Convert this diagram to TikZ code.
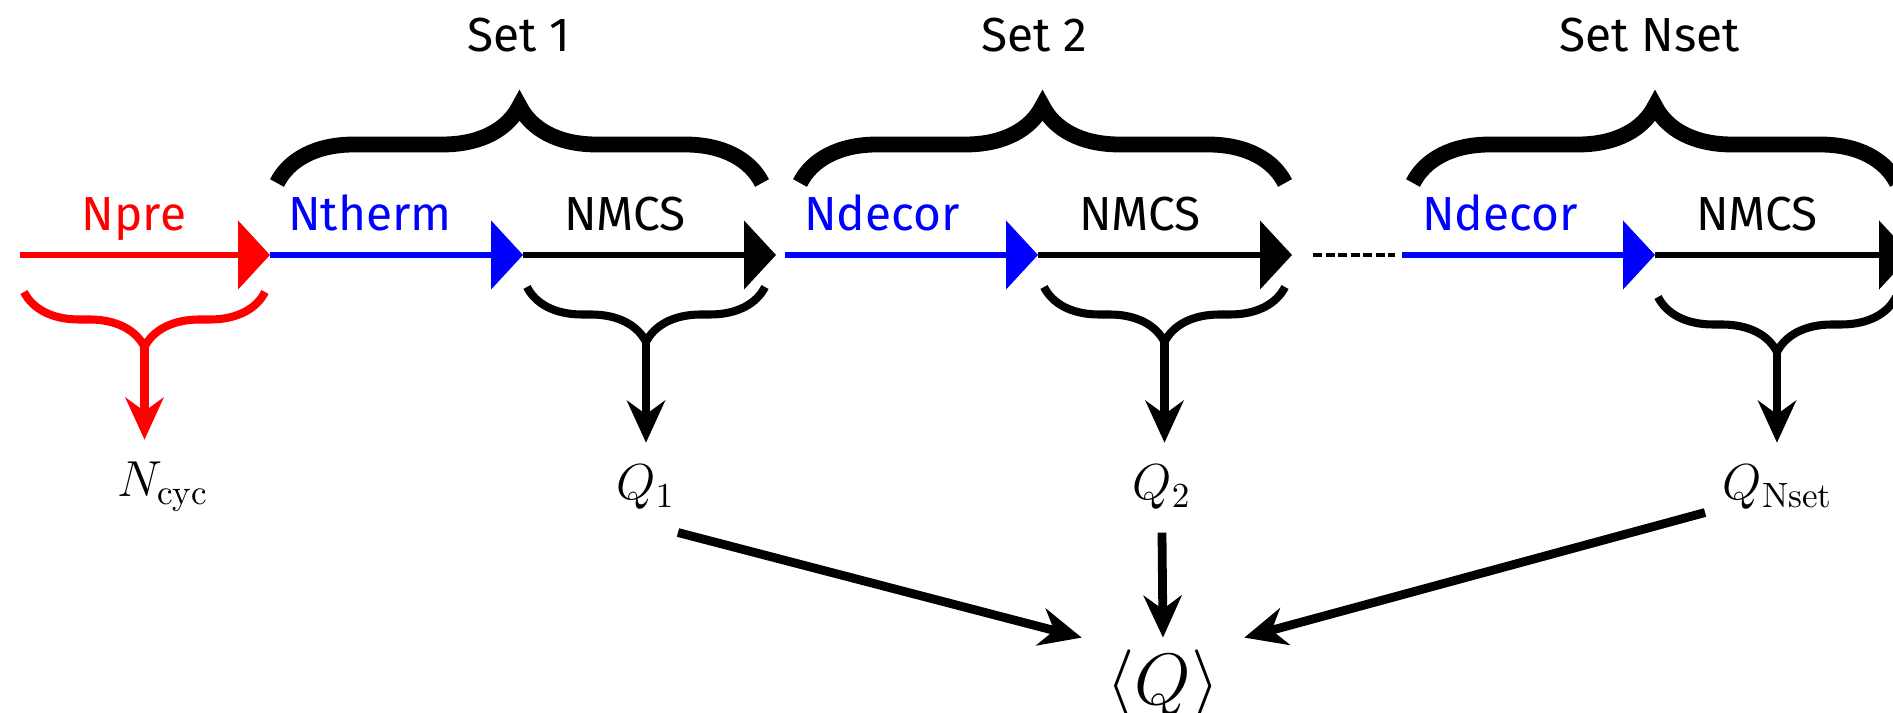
\documentclass[tikz,border=0pt]{standalone}
\usepackage{fontspec}
\setsansfont{Fira Sans}
\usetikzlibrary{arrows.meta}
\usetikzlibrary{positioning}
\usetikzlibrary{decorations.pathreplacing}

\begin{document}
\begin{tikzpicture}[timeline/.style={line width=1.5pt, -{Triangle[length=3.2mm,width=6.8mm]}},
                    set brace/.style={decorate, decoration={brace, amplitude=7.7mm}, line width=4.5pt},
                    mcs brace/.style={decorate, decoration={brace, mirror, amplitude=5.5mm}, line width=2.3pt},
                    out arrow/.style={line width=2.5pt, -{Stealth[length=4.2mm,width=3.8mm]}},
                    steplabel/.style={font=\sffamily\fontsize{13.6}{16}\selectfont, anchor=base, inner sep=0pt},
                    result/.style={font=\Large, anchor=base, inner sep=2.2mm}]

    \useasboundingbox (0,0) rectangle (18.93,7.13);

    % points on the Monte Carlo time line
    \coordinate (t0) at (0.20,4.58);
    \coordinate (t1) at (2.70,4.58);
    \coordinate (t2) at (5.23,4.58);
    \coordinate (t3) at (7.76,4.58);
    \coordinate (t4) at (7.85,4.58);
    \coordinate (t5) at (10.38,4.58);
    \coordinate (t6) at (12.92,4.58);
    \coordinate (d0) at (13.13,4.58);
    \coordinate (d1) at (13.95,4.58);
    \coordinate (t7) at (14.02,4.58);
    \coordinate (t8) at (16.55,4.58);
    \coordinate (t9) at (19.11,4.58);

    \draw[timeline, red]  (t0) -- (t1);
    \draw[timeline, blue] (t1) -- (t2);
    \draw[timeline]       (t2) -- (t3);
    \draw[timeline, blue] (t4) -- (t5);
    \draw[timeline]       (t5) -- (t6);
    \draw[line width=1.2pt, dash pattern=on 0.9mm off 0.35mm] (d0) -- (d1);
    \draw[timeline, blue] (t7) -- (t8);
    \draw[timeline]       (t8) -- (t9);

    \node[steplabel, red]  (npre)   at (1.34,4.82)  {Npre};
    \node[steplabel, blue] (ntherm) at (3.70,4.82)  {Ntherm};
    \node[steplabel]       (mcs1)   at (6.25,4.82)  {NMCS};
    \node[steplabel, blue] (dec2)   at (8.82,4.82)  {Ndecor};
    \node[steplabel]       (mcs2)   at (11.40,4.82) {NMCS};
    \node[steplabel, blue] (decn)   at (15.00,4.82) {Ndecor};
    \node[steplabel]       (mcsn)   at (17.57,4.82) {NMCS};

    % one brace per set
    \draw[set brace] (2.77,5.30)  -- (7.62,5.30);
    \draw[set brace] (8.00,5.30)  -- (12.85,5.30);
    \draw[set brace] (14.13,5.30) -- (18.97,5.30);
    \node[steplabel] (set1) at (5.19,6.61)  {Set 1};
    \node[steplabel] (set2) at (10.34,6.61) {Set 2};
    \node[steplabel] (setn) at (16.50,6.61) {Set Nset};

    % measured parts
    \draw[mcs brace, red] (0.24,4.21)  -- (2.65,4.21);
    \draw[mcs brace]      (5.27,4.26)  -- (7.65,4.26);
    \draw[mcs brace]      (10.44,4.26) -- (12.85,4.26);
    \draw[mcs brace]      (16.58,4.16) -- (18.96,4.16);
    \coordinate (m0) at (1.445,3.66);
    \coordinate (m1) at (6.46,3.71);
    \coordinate (m2) at (11.645,3.71);
    \coordinate (m3) at (17.77,3.61);

    \node[result] (ncyc) at (1.63,2.16)  {$N_{\mathrm{cyc}}$};
    \node[result] (q1)   at (6.46,2.13)  {$Q_1$};
    \node[result] (q2)   at (11.62,2.13) {$Q_2$};
    \node[result] (qn)   at (17.78,2.13) {$Q_{\mathrm{Nset}}$};
    \node[anchor=base, font=\fontsize{21}{25}\selectfont, inner sep=1.2mm] (avg) at (11.63,0.08) {$\langle Q\rangle$};

    \draw[out arrow, red] (m0) -- (ncyc.north -| m0);
    \draw[out arrow] (m1) -- (q1.north -| m1);
    \draw[out arrow] (m2) -- (q2.north -| m2);
    \draw[out arrow] (m3) -- (qn.north -| m3);

    \draw[out arrow] ([xshift=-2mm]q1.south east) -- ([xshift=-1.2mm]avg.north west);
    \draw[out arrow] (q2.south) -- (avg.north);
    \draw[out arrow] ([shift={(0.05,0.2)}]qn.south west) -- ([xshift=1.2mm]avg.north east);
\end{tikzpicture}
\end{document}
